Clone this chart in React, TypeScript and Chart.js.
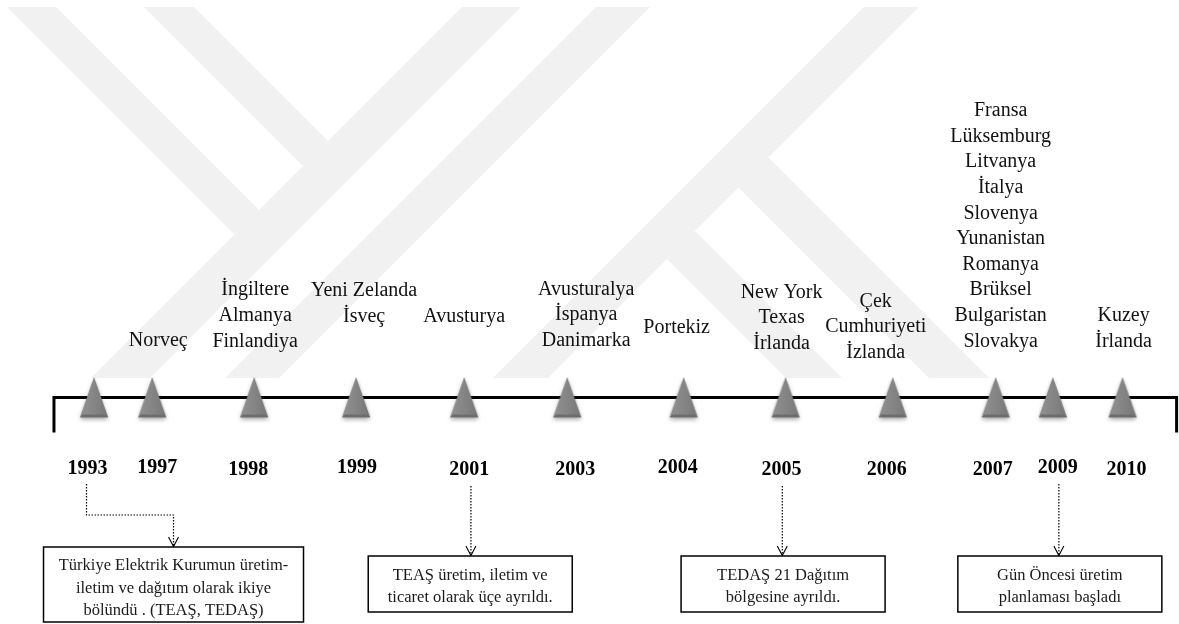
import { useEffect, useRef } from 'react';
import { Chart, registerables } from 'chart.js';

Chart.register(...registerables);

// ---------------- data ----------------
const years = ['1993', '1997', '1998', '1999', '2001', '2003', '2004', '2005', '2006', '2007', '2009', '2010'];
// position of each event along the (non-proportional) timeline, in timeline steps
const positions = [0, 0.56, 1.54, 2.52, 3.56, 4.55, 5.67, 6.65, 7.68, 8.67, 9.22, 9.89];
const countries: string[][] = [
  [],
  ['Norveç'],
  ['İngiltere', 'Almanya', 'Finlandiya'],
  ['Yeni Zelanda', 'İsveç'],
  ['Avusturya'],
  ['Avusturalya', 'İspanya', 'Danimarka'],
  ['Portekiz'],
  ['New York', 'Texas', 'İrlanda'],
  ['Çek', 'Cumhuriyeti', 'İzlanda'],
  ['Fransa', 'Lüksemburg', 'Litvanya', 'İtalya', 'Slovenya', 'Yunanistan', 'Romanya', 'Brüksel', 'Bulgaristan', 'Slovakya'],
  [],
  ['Kuzey', 'İrlanda'],
];
const noteYears = ['1993', '2001', '2005', '2009'];
const noteTexts: string[][] = [
  ['Türkiye Elektrik Kurumun üretim-', 'iletim ve dağıtım olarak ikiye', 'bölündü . (TEAŞ, TEDAŞ)'],
  ['TEAŞ üretim, iletim ve', 'ticaret olarak üçe ayrıldı.'],
  ['TEDAŞ 21 Dağıtım', 'bölgesine ayrıldı.'],
  ['Gün Öncesi üretim', 'planlaması başladı'],
];

// ---------------- layout / style ----------------
const W = 1179;
const H = 624;
const X_MIN = -0.904;
const X_MAX = 10.433;
const Y_MIN = -226.5;
const Y_MAX = 397.5;
const BRACKET_LEFT = -0.385;
const BRACKET_RIGHT = 10.41;
const BRACKET_DROP = -35;
const LINE_H = 25.6;
const SERIF = '"Liberation Serif", "Times New Roman", serif';

const LABEL_DX = [0, 6, 1, 8, 0, 19, -7, -4, -17, 5, 0, 1];
const LABEL_DY = [0, -51.5, -51, -76, -76, -51.5, -64.5, -48.5, -39.5, -51, 0, -50.5];
const YEAR_DX = [-6.5, 5, -6, 1, 5, 8, -6, -4, -6, -3, 5, 4];
const YEAR_DY = [76, 75.5, 77.5, 75.5, 77.5, 77.5, 75, 77.5, 77.5, 77.5, 75, 77.5];

const NOTE_LAYOUT = [
  { arrowDx: -7.5, arrowTop: 86.5, elbow: 117.5, boxDx: 79.5, boxTop: 149.5, w: 260, h: 75, base: [23, 46, 68] },
  { arrowDx: 6.7, arrowTop: 88.5, elbow: null, boxDx: 6, boxTop: 158.5, w: 204, h: 56, base: [24, 45.7] },
  { arrowDx: -3.3, arrowTop: 88.5, elbow: null, boxDx: -2.5, boxTop: 158.5, w: 204, h: 56, base: [24, 45.7] },
  { arrowDx: 6, arrowTop: 86.5, elbow: null, boxDx: 7, boxTop: 158.5, w: 204, h: 56, base: [24, 45.7] },
];

// background watermark (decoration)
const WATERMARK: number[][][] = [
  [[7, 7], [56, 7], [259, 210], [234.5, 234.5]],
  [[144, 7], [194, 7], [328, 141], [303, 166]],
  [[462, 7], [521, 7], [150, 378], [91, 378]],
  [[596, 7], [650, 7], [279, 378], [225, 378]],
  [[864, 7], [919, 7], [548, 378], [493, 378]],
  [[695, 231], [842, 378], [786, 378], [667, 259]],
  [[768.5, 157.5], [989, 378], [929, 378], [738.5, 187.5]],
];

function makeTriangle(): HTMLCanvasElement {
  const c = document.createElement('canvas');
  c.width = 36;
  c.height = 56;
  const g = c.getContext('2d')!;
  const path = () => {
    g.beginPath();
    g.moveTo(18, 8);
    g.lineTo(32, 48);
    g.lineTo(4, 48);
    g.closePath();
  };
  g.save();
  g.shadowColor = 'rgba(0,0,0,0.35)';
  g.shadowBlur = 4;
  g.shadowOffsetY = 2;
  path();
  g.fillStyle = '#7f7f7f';
  g.fill();
  g.restore();
  const grad = g.createLinearGradient(4, 0, 32, 0);
  grad.addColorStop(0, '#919191');
  grad.addColorStop(0.5, '#858585');
  grad.addColorStop(1, '#777777');
  path();
  g.fillStyle = grad;
  g.fill();
  g.beginPath();
  g.moveTo(4, 48);
  g.lineTo(32, 48);
  g.lineTo(29.6, 45);
  g.lineTo(6.4, 45);
  g.closePath();
  g.fillStyle = '#6c6c6c';
  g.fill();
  return c;
}

const timelinePlugin = {
  id: 'timelineDecor',
  beforeDraw(chart: any) {
    const ctx = chart.ctx as CanvasRenderingContext2D;
    ctx.save();
    ctx.fillStyle = '#ffffff';
    ctx.fillRect(0, 0, chart.width, chart.height);
    ctx.fillStyle = '#f1f1f1';
    for (const poly of WATERMARK) {
      ctx.beginPath();
      poly.forEach(([x, y], i) => (i ? ctx.lineTo(x, y) : ctx.moveTo(x, y)));
      ctx.closePath();
      ctx.fill();
    }
    ctx.restore();
  },
  afterDatasetsDraw(chart: any) {
    const ctx = chart.ctx as CanvasRenderingContext2D;
    const xs = chart.scales.x;
    const ys = chart.scales.y;
    const y0 = ys.getPixelForValue(0);
    ctx.save();
    ctx.textAlign = 'center';
    ctx.textBaseline = 'alphabetic';

    // country labels above the timeline
    ctx.fillStyle = '#111';
    ctx.font = `20px ${SERIF}`;
    years.forEach((_, i) => {
      const lines = countries[i];
      if (!lines.length) return;
      const cx = xs.getPixelForValue(positions[i]) + LABEL_DX[i];
      const last = y0 + LABEL_DY[i];
      lines.forEach((t, j) => ctx.fillText(t, cx, last - (lines.length - 1 - j) * LINE_H));
    });

    // year labels (slightly taller than wide, as in the source)
    ctx.fillStyle = '#000';
    ctx.font = `bold 20px ${SERIF}`;
    years.forEach((yr, i) => {
      ctx.save();
      ctx.translate(xs.getPixelForValue(positions[i]) + YEAR_DX[i], y0 + YEAR_DY[i]);
      ctx.scale(1, 1.1);
      ctx.fillText(yr, 0, 0);
      ctx.restore();
    });

    // notes with dotted arrows and boxes
    noteYears.forEach((yr, k) => {
      const i = years.indexOf(yr);
      const tx = xs.getPixelForValue(positions[i]);
      const L = NOTE_LAYOUT[k];
      const ax = tx + L.arrowDx;
      const bx = tx + L.boxDx;
      const top = y0 + L.boxTop;
      const endX = L.elbow != null ? bx : ax;

      ctx.strokeStyle = '#000';
      ctx.lineWidth = 1.2;
      ctx.setLineDash([1.5, 1.5]);
      ctx.beginPath();
      ctx.moveTo(ax, y0 + L.arrowTop);
      if (L.elbow != null) {
        ctx.lineTo(ax, y0 + L.elbow);
        ctx.lineTo(bx, y0 + L.elbow);
      }
      ctx.lineTo(endX, top - 1);
      ctx.stroke();

      ctx.setLineDash([]);
      ctx.lineWidth = 1.1;
      ctx.beginPath();
      ctx.moveTo(endX - 5, top - 10);
      ctx.lineTo(endX, top - 0.5);
      ctx.lineTo(endX + 5, top - 10);
      ctx.stroke();

      ctx.fillStyle = '#fff';
      ctx.fillRect(bx - L.w / 2, top, L.w, L.h);
      ctx.lineWidth = 1.5;
      ctx.strokeRect(bx - L.w / 2, top, L.w, L.h);

      ctx.fillStyle = '#1a1a1a';
      ctx.font = `16.5px ${SERIF}`;
      noteTexts[k].forEach((t, j) => ctx.fillText(t, bx, top + L.base[j]));
    });
    ctx.restore();
  },
};

export default function App() {
  const ref = useRef<HTMLCanvasElement | null>(null);

  useEffect(() => {
    document.body.style.margin = '0';
    const canvas = ref.current;
    if (!canvas) return;
    const tri = makeTriangle();
    const chart = new Chart(canvas, {
      type: 'scatter',
      data: {
        datasets: [
          {
            label: 'events',
            data: positions.map((p) => ({ x: p, y: 0 })),
            pointStyle: tri as any,
            pointRadius: 14,
            showLine: false,
            order: 0,
          },
          {
            label: 'timeline',
            data: [
              { x: BRACKET_LEFT, y: BRACKET_DROP },
              { x: BRACKET_LEFT, y: 0 },
              { x: BRACKET_RIGHT, y: 0 },
              { x: BRACKET_RIGHT, y: BRACKET_DROP },
            ],
            showLine: true,
            borderColor: '#000',
            borderWidth: 3,
            borderJoinStyle: 'miter',
            pointRadius: 0,
            tension: 0,
            order: 1,
            clip: false as any,
          } as any,
        ],
      },
      options: {
        responsive: false,
        animation: false,
        events: [],
        layout: { padding: 0, autoPadding: false } as any,
        plugins: { legend: { display: false }, tooltip: { enabled: false } },
        scales: {
          x: { type: 'linear', min: X_MIN, max: X_MAX, display: false },
          y: { type: 'linear', min: Y_MIN, max: Y_MAX, display: false },
        },
      },
      plugins: [timelinePlugin],
    });
    return () => chart.destroy();
  }, []);

  return (
    <div style={{ width: W, height: H, background: '#fff' }}>
      <canvas ref={ref} width={W} height={H} style={{ display: 'block' }} />
    </div>
  );
}
